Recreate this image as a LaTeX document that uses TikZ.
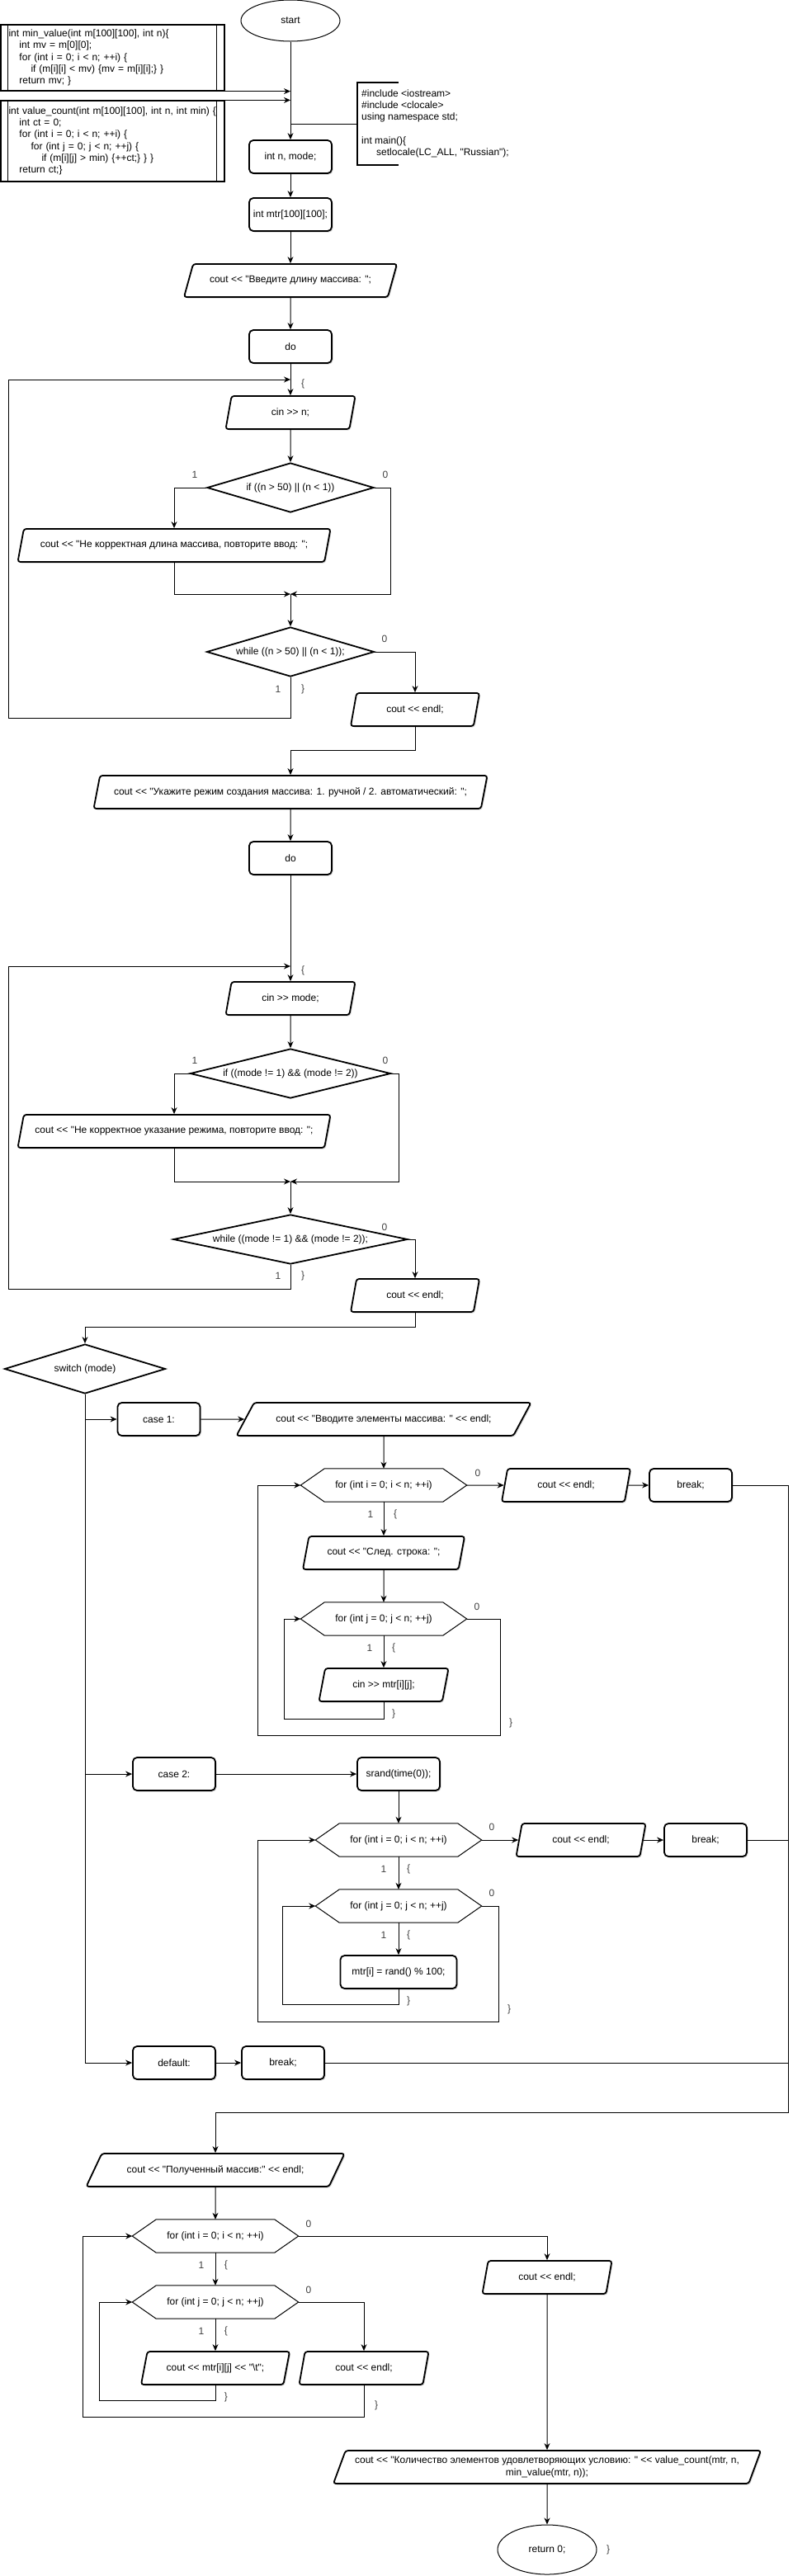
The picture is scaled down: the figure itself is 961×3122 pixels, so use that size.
\documentclass[tikz,border=0pt]{standalone}
\usepackage{fontspec}
\setmainfont{Liberation Sans}[Ligatures=TeXOff]
\usetikzlibrary{shapes.geometric, arrows.meta, shadows}

\tikzset{
    every node/.style={font=\fontsize{12}{14.3}\selectfont, inner sep=2pt},
    boxshadow/.style={drop shadow={shadow xshift=1.5pt, shadow yshift=-1.5pt, opacity=0.35}},
    term/.style={ellipse, draw, line width=1pt, minimum width=120, inner sep=0pt},
    proc/.style={rectangle, draw, rounded corners=5pt, line width=1.8pt, fill=white, minimum width=100, minimum height=40, boxshadow},
    io/.style={trapezium, trapezium stretches body=true, trapezium left angle=63.4, trapezium right angle=116.6, draw, rounded corners=3pt, line width=1.8pt, fill=white, minimum height=40, align=center, boxshadow},
    decision/.style={diamond, draw, line width=1.8pt, aspect=4.7, inner sep=0pt, minimum height=60},
    hexa/.style={rectangle, minimum width=201, minimum height=40, inner sep=0pt},
    sub/.style={rectangle, draw, line width=1.2pt, minimum width=271, text width=252pt, inner xsep=9.5pt, align=left},
    note/.style={rectangle, inner xsep=5pt, align=left},
    lbl/.style={text=black!75, inner sep=0pt},
    link/.style={line width=1pt}
}

\begin{document}
\begin{tikzpicture}[x=1pt, y=-1pt, >={Stealth[length=8pt, width=7pt]}]
    \useasboundingbox (0,0) rectangle (961,3122);

    % Start, helper functions and the header
    \node[term, minimum height=50] (start) at (352,25) {start};
    \node[sub, minimum height=80] (fmin) at (136.5,70) {int min\_value(int m[100][100], int n)\{\\
        \hspace*{13pt}int mv = m[0][0];\\
        \hspace*{13pt}for (int i = 0; i < n; ++i) \{\\
        \hspace*{27pt}if (m[i][i] < mv) \{mv = m[i][i];\} \}\\
        \hspace*{13pt}return mv; \}};
    \node[sub, minimum height=98] (fcount) at (136.5,171) {int value\_count(int m[100][100], int n, int min) \{\\
        \hspace*{13pt}int ct = 0;\\
        \hspace*{13pt}for (int i = 0; i < n; ++i) \{\\
        \hspace*{27pt}for (int j = 0; j < n; ++j) \{\\
        \hspace*{40pt}if (m[i][j] > min) \{++ct;\} \} \}\\
        \hspace*{13pt}return ct;\}};
    \foreach \f in {fmin, fcount} {
        % side bars of the predefined process
        \draw[line width=1.2pt] ([xshift=9]\f.north west) -- ([xshift=9]\f.south west);
        \draw[line width=1.2pt] ([xshift=-10]\f.north east) -- ([xshift=-10]\f.south east);
    }
    \node[note, anchor=west, minimum height=100] (incl) at (433,150) {\#include <iostream>\\
        \#include <clocale>\\
        using namespace std;\\[14.3pt]
        int main()\{\\
        \hspace*{18pt}setlocale(LC\_ALL, "Russian");};
    \draw[line width=1.8pt] ([xshift=50]incl.north west) -- (incl.north west) -- (incl.south west) -- ([xshift=50]incl.south west);

    % Input of the length
    \node[proc] (nm) at (352,190) {int n, mode;};
    \node[proc] (mtr) at (352,260) {int mtr[100][100];};
    \node[io, minimum width=258, trapezium left angle=53.1, trapezium right angle=126.9] (ask1) at (352,340) {cout << "Введите длину массива: ";};
    \node[proc] (do1) at (352,420) {do};
    \coordinate (lp1) at (352,460);
    \node[io, minimum width=157] (cinn) at (352,500) {cin >> n;};
    \node[decision, minimum width=202] (if1) at (352,591) {if ((n > 50) || (n < 1))};
    \node[io, minimum width=379] (err1) at (211,661) {cout << "Не корректная длина массива, повторите ввод: ";};
    \coordinate (mg1) at (352,720);
    \node[decision, minimum width=203] (wh1) at (352,790) {while ((n > 50) || (n < 1));};
    \node[io, minimum width=156] (end1) at (503,860) {cout << endl;};

    % Input of the mode
    \node[io, minimum width=477] (ask2) at (352,960) {cout << "Укажите режим создания массива: 1. ручной / 2. автоматический: ";};
    \node[proc] (do2) at (352,1040) {do};
    \coordinate (lp2) at (352,1171);
    \node[io, minimum width=157] (cinm) at (352,1210) {cin >> mode;};
    \node[decision, minimum width=243] (if2) at (352,1301) {if ((mode != 1) \&\& (mode != 2))};
    \node[io, minimum width=379] (err2) at (211,1371) {cout << "Не корректное указание режима, повторите ввод: ";};
    \coordinate (mg2) at (352,1432);
    \node[decision, minimum width=284] (wh2) at (352,1502) {while ((mode != 1) \&\& (mode != 2));};
    \node[io, minimum width=156] (end2) at (503,1570) {cout << endl;};

    % switch, case 1
    \node[decision, minimum width=195] (sw) at (103,1659) {switch (mode)};
    \node[proc] (case1) at (192.5,1720) {case 1:};
    \node[io, minimum width=357, trapezium left angle=35.1, trapezium right angle=144.9] (inp) at (465,1720) {cout << "Вводите элементы массива: " << endl;};
    \node[hexa] (fi1) at (465,1800) {for (int i = 0; i < n; ++i)};
    \node[io, minimum width=156] (endr1) at (686,1800) {cout << endl;};
    \node[proc] (brk1) at (837,1800) {break;};
    \node[io, minimum width=196] (nxt) at (465,1882) {cout << "След. строка: ";};
    \node[hexa] (fj1) at (465,1962) {for (int j = 0; j < n; ++j)};
    \node[io, minimum width=157] (cinij) at (465,2042) {cin >> mtr[i][j];};

    % case 2
    \node[proc] (case2) at (211,2150) {case 2:};
    \node[proc] (srnd) at (483,2150) {srand(time(0));};
    \node[hexa] (fi2) at (483,2230) {for (int i = 0; i < n; ++i)};
    \node[io, minimum width=157] (endr2) at (704,2230) {cout << endl;};
    \node[proc] (brk2) at (855,2230) {break;};
    \node[hexa] (fj2) at (483,2310) {for (int j = 0; j < n; ++j)};
    \node[proc, minimum width=141] (rnd) at (483,2390) {mtr[i] = rand() \% 100;};

    % default
    \node[proc] (dflt) at (211,2500) {default:};
    \node[proc] (brk3) at (343,2500) {break;};
    \coordinate (rail) at (955,2560);

    % Output of the matrix and the result
    \node[io, minimum width=313, trapezium left angle=39.2, trapezium right angle=140.8] (res) at (261,2630) {cout << "Полученный массив:" << endl;};
    \node[hexa] (fi3) at (261,2710) {for (int i = 0; i < n; ++i)};
    \node[io, minimum width=157] (endr3) at (663,2760) {cout << endl;};
    \node[hexa] (fj3) at (261,2790) {for (int j = 0; j < n; ++j)};
    \node[io, minimum width=180] (outij) at (261,2870) {cout << mtr[i][j] << "\textbackslash t";};
    \node[io, minimum width=157] (endr4) at (441,2870) {cout << endl;};
    \node[io, minimum width=518] (cnt) at (663,2990) {cout << "Количество элементов удовлетворяющих условию: " << value\_count(mtr, n,\\ min\_value(mtr, n));};
    \node[term, minimum height=60] (ret) at (663,3090) {return 0;};

    % Hexagons of the for loops
    \foreach \h in {fi1, fj1, fi2, fj2, fi3, fj3}
        \draw[link] (\h.west) -- ([xshift=29]\h.north west) -- ([xshift=-29]\h.north east) -- (\h.east)
            -- ([xshift=-29]\h.south east) -- ([xshift=29]\h.south west) -- cycle;

    % Connectors, top part
    \draw[link, ->] (start) -- (nm);
    \draw[link, ->] (fmin.south east) -- (fmin.south east -| nm);
    \draw[link, ->] (fcount.north east) -- (fcount.north east -| nm);
    \draw[link] (incl.west) -- (incl.west -| nm);
    \draw[link, ->] (nm) -- (mtr);
    \draw[link, ->] (mtr) -- (ask1);
    \draw[link, ->] (ask1) -- (do1);
    \draw[link, ->] (do1) -- (cinn);
    \draw[link, ->] (cinn) -- (if1);
    \draw[link, ->] (if1.west) -| (err1.north);
    \draw[link, ->] (err1.south) |- (mg1);
    \draw[link, ->] (if1.east) -- ++(20,0) |- (mg1);
    \draw[link, ->] (mg1) -- (wh1);
    \draw[link, ->] (wh1.east) -| (end1.north);
    \draw[link, ->] (wh1.south) -- ++(0,50) -| (10,460) -- (lp1);
    \draw[link, ->] (end1.south) -- ++(0,29) -| (ask2.north);

    % Connectors, mode loop
    \draw[link, ->] (ask2) -- (do2);
    \draw[link, ->] (do2) -- (cinm);
    \draw[link, ->] (cinm) -- (if2);
    \draw[link, ->] (if2.west) -| (err2.north);
    \draw[link, ->] (err2.south) |- (mg2);
    \draw[link, ->] (if2.east) -- ++(9,0) |- (mg2);
    \draw[link, ->] (mg2) -- (wh2);
    \draw[link, ->] (wh2.east) -| (end2.north);
    \draw[link, ->] (wh2.south) -- ++(0,30) -| (10,1171) -- (lp2);
    \draw[link, ->] (end2.south) -- ++(0,18) -| (sw.north);

    % Connectors, switch
    \draw[link, ->] (sw.south) |- (case1.west);
    \draw[link, ->] (sw.south) |- (case2.west);
    \draw[link, ->] (sw.south) |- (dflt.west);
    \draw[link, ->] (case1) -- (inp);
    \draw[link, ->] (inp) -- (fi1);
    \draw[link, ->] (fi1.east) -- (endr1.west);
    \draw[link, ->] (endr1.east) -- (brk1.west);
    \draw[link, ->] (fi1) -- (nxt);
    \draw[link, ->] (nxt) -- (fj1);
    \draw[link, ->] (fj1) -- (cinij);
    \draw[link, ->] (cinij.south) -- ++(0,21) -| ([xshift=-20]fj1.west) -- (fj1.west);
    \draw[link, ->] (fj1.east) -- ++(41,0) -- ++(0,141) -| ([xshift=-52]fi1.west) -- (fi1.west);
    \draw[link, ->] (case2) -- (srnd);
    \draw[link, ->] (srnd) -- (fi2);
    \draw[link, ->] (fi2.east) -- (endr2.west);
    \draw[link, ->] (endr2.east) -- (brk2.west);
    \draw[link, ->] (fi2) -- (fj2);
    \draw[link, ->] (fj2) -- (rnd);
    \draw[link, ->] (rnd.south) -- ++(0,19) -| ([xshift=-40]fj2.west) -- (fj2.west);
    \draw[link, ->] (fj2.east) -- ++(21,0) -- ++(0,140) -| ([xshift=-70]fi2.west) -- (fi2.west);
    \draw[link, ->] (dflt) -- (brk3);
    \draw[link, ->] (brk1.east) -| (rail) -| (res.north);
    \draw[link] (brk2.east) -- (brk2.east -| rail);
    \draw[link] (brk3.east) -- (brk3.east -| rail);

    % Connectors, output
    \draw[link, ->] (res) -- (fi3);
    \draw[link, ->] (fi3.east) -| (endr3.north);
    \draw[link, ->] (fi3) -- (fj3);
    \draw[link, ->] (fj3) -- (outij);
    \draw[link, ->] (fj3.east) -| (endr4.north);
    \draw[link, ->] (outij.south) -- ++(0,19) -| ([xshift=-40]fj3.west) -- (fj3.west);
    \draw[link, ->] (endr4.south) -- ++(0,39) -| ([xshift=-60]fi3.west) -- (fi3.west);
    \draw[link, ->] (endr3) -- (cnt);
    \draw[link, ->] (cnt) -- (ret);

    % Branch labels and braces
    \foreach \x/\y/\t [count=\k] in {367/465/\{, 236/575/1, 467/575/0, 466/774/0, 337/835/1, 367/835/\},
        367/1176/\{, 236/1285/1, 467/1285/0, 466/1487/0, 337/1546/1, 367/1546/\},
        579/1785/0, 449/1835/1, 479/1835/\{, 578/1947/0, 448/1997/1, 477/1997/\{, 477/2077/\}, 619/2088/\},
        596/2214/0, 465/2265/1, 495/2265/\{, 596/2294/0, 465/2345/1, 495/2345/\{, 495/2425/\}, 617/2435/\},
        374/2695/0, 244/2745/1, 274/2745/\{, 374/2775/0, 244/2825/1, 274/2825/\{, 274/2905/\}, 456/2915/\},
        737/3090/\}}
        \node[lbl] (lb\k) at (\x,\y) {\t};
\end{tikzpicture}
\end{document}
